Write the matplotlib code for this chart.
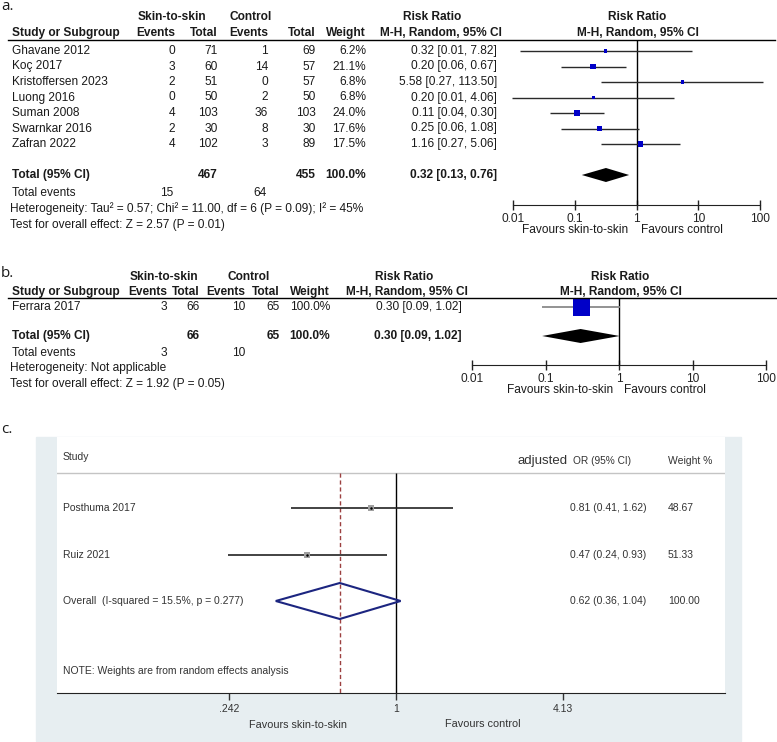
import matplotlib
matplotlib.use("Agg")
import matplotlib.pyplot as plt
from matplotlib.patches import Rectangle
from matplotlib.lines import Line2D
from matplotlib.ticker import NullLocator

# ----- Data -----

# a. skin-to-skin vs control (RevMan)
a_studies = ["Ghavane 2012", "Koç 2017", "Kristoffersen 2023", "Luong 2016",
             "Suman 2008", "Swarnkar 2016", "Zafran 2022"]
a_sts_events = [0, 3, 2, 0, 4, 2, 4]
a_sts_total = [71, 60, 51, 50, 103, 30, 102]
a_ctl_events = [1, 14, 0, 2, 36, 8, 3]
a_ctl_total = [69, 57, 57, 50, 103, 30, 89]
a_weight = [6.2, 21.1, 6.8, 6.8, 24.0, 17.6, 17.5]
a_rr = [0.32, 0.20, 5.58, 0.20, 0.11, 0.25, 1.16]
a_lo = [0.013, 0.06, 0.27, 0.0098, 0.04, 0.06, 0.27]
a_hi = [7.82, 0.67, 113.50, 4.06, 0.30, 1.08, 5.06]
a_pooled = [0.32, 0.13, 0.76]
a_totals = [467, 455]
a_total_events = [15, 64]

# b. single study
b_studies = ["Ferrara 2017"]
b_sts_events = [3]
b_sts_total = [66]
b_ctl_events = [10]
b_ctl_total = [65]
b_weight = [100.0]
b_rr = [0.30]
b_lo = [0.09]
b_hi = [1.02]
b_pooled = [0.30, 0.09, 1.02]

# c. adjusted OR (Stata metan)
c_studies = ["Posthuma 2017", "Ruiz 2021"]
c_or = [0.81, 0.47]
c_lo = [0.41, 0.24]
c_hi = [1.62, 0.93]
c_weight = [48.67, 51.33]
c_pooled = [0.62, 0.36, 1.04]
c_ticks = [0.242, 1, 4.13]
c_ticklabels = [".242", "1", "4.13"]

rr_ticks = [0.01, 0.1, 1, 10, 100]
rr_ticklabels = ["0.01", "0.1", "1", "10", "100"]

# ----- Helpers -----

W, H = 777, 742
plt.rcParams["font.family"] = ["Liberation Sans", "DejaVu Sans"]
fig = plt.figure(figsize=(W / 100, H / 100), dpi=100)
fig.patch.set_facecolor("white")

TXT = "#1a1a1a"
FS = 8.55


def fx(x):
    return x / W


def fy(y):
    return 1 - y / H


def txt(x, y, s, ha="left", size=FS, bold=False, color=TXT, va="center", **kw):
    fig.text(fx(x), fy(y), s, ha=ha, va=va, fontsize=size,
             fontweight="bold" if bold else "normal", color=color, **kw)


def hline(x0, x1, y, color="black", lw=1.0):
    fig.add_artist(Line2D([fx(x0), fx(x1)], [fy(y), fy(y)], color=color, lw=lw,
                          transform=fig.transFigure))


def px_axes(x0, x1, y0, y1):
    return fig.add_axes([fx(x0), fy(y1), (x1 - x0) / W, (y1 - y0) / H])


def revman_axes(x0, x1, ytop, ybot, row0, step):
    ax = px_axes(x0, x1, ytop, ybot)
    ax.set_xscale("log")
    ax.set_xlim(0.01, 100)
    ax.set_ylim((ybot - row0) / step, (ytop - row0) / step)
    ax.patch.set_alpha(0)
    for s in ["top", "left", "right"]:
        ax.spines[s].set_visible(False)
    ax.spines["bottom"].set_color("#222222")
    ax.set_yticks([])
    ax.set_xticks(rr_ticks)
    ax.set_xticklabels(rr_ticklabels)
    ax.xaxis.set_minor_locator(NullLocator())
    ax.tick_params(axis="x", direction="inout", length=7, width=1, labelsize=FS,
                   pad=2, colors="#222222")
    ax.axvline(1, color="black", lw=1)
    return ax


def diamond(ax, est, lo, hi, y, h, **kw):
    ax.fill([lo, est, hi, est], [y, y - h, y, y + h], clip_on=False, **kw)


# ----- Panel a -----

txt(1, 10, "a.", size=11, va="baseline", family=["Open Sans", "DejaVu Sans"])
txt(172, 17, "Skin-to-skin", ha="center", bold=True)
txt(251, 17, "Control", ha="center", bold=True)
txt(432, 17, "Risk Ratio", ha="center", bold=True)
txt(637, 17, "Risk Ratio", ha="center", bold=True)
txt(12, 33, "Study or Subgroup", bold=True)
for x, s in [(175, "Events"), (218, "Total"), (268, "Events"), (316, "Total"),
             (366, "Weight"), (502, "M-H, Random, 95% CI")]:
    txt(x, 33, s, ha="right", bold=True)
txt(638, 33, "M-H, Random, 95% CI", ha="center", bold=True)
hline(8, 775, 40)

a_row0, a_step = 51, 15.5
a_rows = list(range(len(a_studies)))
for i, name in enumerate(a_studies):
    y = a_row0 + a_step * i
    txt(12, y, name)
    txt(175, y, str(a_sts_events[i]), ha="right")
    txt(218, y, str(a_sts_total[i]), ha="right")
    txt(268, y, str(a_ctl_events[i]), ha="right")
    txt(316, y, str(a_ctl_total[i]), ha="right")
    txt(366, y, f"{a_weight[i]:.1f}%", ha="right")
    txt(497, y, f"{a_rr[i]:.2f} [{a_lo[i]:.2f}, {a_hi[i]:.2f}]", ha="right")

a_total_row = len(a_studies) + 1
yt = a_row0 + a_step * a_total_row
txt(12, yt, "Total (95% CI)", bold=True)
txt(218, yt, str(a_totals[0]), ha="right", bold=True)
txt(316, yt, str(a_totals[1]), ha="right", bold=True)
txt(366, yt, f"{sum(a_weight):.1f}%", ha="right", bold=True)
txt(497, yt, f"{a_pooled[0]:.2f} [{a_pooled[1]:.2f}, {a_pooled[2]:.2f}]", ha="right", bold=True)
txt(12, 193, "Total events")
txt(173, 193, str(a_total_events[0]), ha="right")
txt(267, 193, str(a_total_events[1]), ha="right")
txt(10, 209, "Heterogeneity: Tau² = 0.57; Chi² = 11.00, df = 6 (P = 0.09); I² = 45%")
txt(10, 225, "Test for overall effect: Z = 2.57 (P = 0.01)")

ax_a = revman_axes(513, 760, 40, 205, a_row0, a_step)
ax_a.hlines(a_rows, a_lo, a_hi, color="#2a2a2a", lw=1, clip_on=False, zorder=2)
ax_a.scatter(a_rr, a_rows, marker="s", s=[(1.25 * w ** 0.5 * 0.72) ** 2 for w in a_weight],
             color="#0000c8", linewidths=0, zorder=3)
diamond(ax_a, a_pooled[0], a_pooled[1], a_pooled[2], a_total_row, 7 / a_step, color="black", lw=0)
txt(575, 230, "Favours skin-to-skin", ha="center")
txt(682, 230, "Favours control", ha="center")

# ----- Panel b -----

txt(1, 277, "b.", size=11, va="baseline", family=["Open Sans", "DejaVu Sans"])
txt(164, 277, "Skin-to-skin", ha="center", bold=True)
txt(249, 277, "Control", ha="center", bold=True)
txt(404, 277, "Risk Ratio", ha="center", bold=True)
txt(620, 277, "Risk Ratio", ha="center", bold=True)
txt(12, 292, "Study or Subgroup", bold=True)
for x, s in [(167, "Events"), (200, "Total"), (245, "Events"), (280, "Total"),
             (330, "Weight"), (468, "M-H, Random, 95% CI")]:
    txt(x, 292, s, ha="right", bold=True)
txt(621, 292, "M-H, Random, 95% CI", ha="center", bold=True)
hline(8, 777, 298)

b_row0, b_step = 307, 14.5
b_rows = list(range(len(b_studies)))
for i, name in enumerate(b_studies):
    y = b_row0 + b_step * i
    txt(12, y, name)
    txt(167, y, str(b_sts_events[i]), ha="right")
    txt(200, y, str(b_sts_total[i]), ha="right")
    txt(245, y, str(b_ctl_events[i]), ha="right")
    txt(280, y, str(b_ctl_total[i]), ha="right")
    txt(330, y, f"{b_weight[i]:.1f}%", ha="right")
    txt(462, y, f"{b_rr[i]:.2f} [{b_lo[i]:.2f}, {b_hi[i]:.2f}]", ha="right")

b_total_row = len(b_studies) + 1
yt = b_row0 + b_step * b_total_row
txt(12, yt, "Total (95% CI)", bold=True)
txt(200, yt, str(sum(b_sts_total)), ha="right", bold=True)
txt(280, yt, str(sum(b_ctl_total)), ha="right", bold=True)
txt(330, yt, f"{sum(b_weight):.1f}%", ha="right", bold=True)
txt(462, yt, f"{b_pooled[0]:.2f} [{b_pooled[1]:.2f}, {b_pooled[2]:.2f}]", ha="right", bold=True)
txt(12, 353, "Total events")
txt(167, 353, str(sum(b_sts_events)), ha="right")
txt(245, 353, str(sum(b_ctl_events)), ha="right")
txt(10, 368, "Heterogeneity: Not applicable")
txt(10, 384, "Test for overall effect: Z = 1.92 (P = 0.05)")

ax_b = revman_axes(472, 766, 298, 365, b_row0, b_step)
ax_b.hlines(b_rows, b_lo, b_hi, color="#8a8a8a", lw=1.3, clip_on=False, zorder=2)
ax_b.scatter(b_rr, b_rows, marker="s", s=[(1.7 * w ** 0.5 * 0.72) ** 2 for w in b_weight],
             color="#0000c8", linewidths=0, zorder=3)
diamond(ax_b, b_pooled[0], b_pooled[1], b_pooled[2], b_total_row, 7 / b_step, color="black", lw=0)
txt(560, 390, "Favours skin-to-skin", ha="center")
txt(665, 390, "Favours control", ha="center")

# ----- Panel c -----

txt(1, 433, "c.", size=11, va="baseline", family=["Open Sans", "DejaVu Sans"])
fig.patches.append(Rectangle((fx(36), fy(741)), (741 - 36) / W, (741 - 437) / H,
                             transform=fig.transFigure, color="#e7eef1", zorder=-10))

c_row0, c_step = 508, 46.5
c_x0, c_x1, c_one, c_dec = 57, 725, 396, 271.0
c_top, c_axis, c_sep = 437, 693, 473
ax_c = px_axes(c_x0, c_x1, c_top, c_axis)
ax_c.set_zorder(1)
ax_c.set_xscale("log")
ax_c.set_xlim(10 ** ((c_x0 - c_one) / c_dec), 10 ** ((c_x1 - c_one) / c_dec))
ax_c.set_ylim((c_axis - c_row0) / c_step, (c_top - c_row0) / c_step)
ax_c.set_facecolor("white")
for s in ["top", "left", "right"]:
    ax_c.spines[s].set_visible(False)
ax_c.spines["bottom"].set_color("#222222")
ax_c.set_yticks([])
ax_c.set_xticks(c_ticks)
ax_c.set_xticklabels(c_ticklabels)
ax_c.xaxis.set_minor_locator(NullLocator())
ax_c.tick_params(axis="x", direction="out", length=5, width=1, labelsize=7.5, pad=3,
                 colors="#333333")

y_sep = (c_sep - c_row0) / c_step
y_bot = (c_axis - c_row0) / c_step
ax_c.axhline(y_sep, color="#c4c4c4", lw=1)
ax_c.vlines(1, y_sep, y_bot, color="black", lw=1)
ax_c.vlines(c_pooled[0], y_sep, y_bot, color="#9c4040", lw=1, linestyles=(0, (3, 2)))

c_rows = list(range(len(c_studies)))
ax_c.hlines(c_rows, c_lo, c_hi, color="#222222", lw=1.2, zorder=2)
ax_c.scatter(c_or, c_rows, marker="s", s=(6 * 0.72) ** 2, color="#a0a0a0", linewidths=0, zorder=3)
ax_c.scatter(c_or, c_rows, marker="o", s=(2.5 * 0.72) ** 2, color="black", linewidths=0, zorder=4)
c_total_row = len(c_studies)
ax_c.fill([c_pooled[1], c_pooled[0], c_pooled[2], c_pooled[0]],
          [c_total_row, c_total_row - 18 / c_step, c_total_row, c_total_row + 18 / c_step],
          facecolor="none", edgecolor="#1c2580", lw=1.5, zorder=3)

CT = "#333333"
txt(63, 457, "Study", size=7.5, color=CT, zorder=5)
txt(518, 461, "adjusted", size=9.5, color=CT, zorder=5)
txt(573, 461, "OR (95% CI)", size=7.3, color=CT, zorder=5)
txt(668, 461, "Weight %", size=7.5, color=CT, zorder=5)
for i, name in enumerate(c_studies):
    y = c_row0 + c_step * i
    txt(63, y, name, size=7.5, color=CT, zorder=5)
    txt(570, y, f"{c_or[i]:.2f} ({c_lo[i]:.2f}, {c_hi[i]:.2f})", size=7.5, color=CT, zorder=5)
    txt(668, y, f"{c_weight[i]:.2f}", size=7.5, color=CT, zorder=5)
yt = c_row0 + c_step * c_total_row
txt(63, yt, "Overall  (I-squared = 15.5%, p = 0.277)", size=7.5, color=CT, zorder=5)
txt(570, yt, f"{c_pooled[0]:.2f} ({c_pooled[1]:.2f}, {c_pooled[2]:.2f})", size=7.5, color=CT, zorder=5)
txt(668, yt, f"{sum(c_weight):.2f}", size=7.5, color=CT, zorder=5)
txt(63, 671, "NOTE: Weights are from random effects analysis", size=7.5, color=CT, zorder=5)
txt(298, 725, "Favours skin-to-skin", ha="center", size=7.8, color=CT, zorder=5)
txt(483, 724, "Favours control", ha="center", size=7.8, color=CT, zorder=5)

fig.savefig("out.png", dpi=100, facecolor="white")
